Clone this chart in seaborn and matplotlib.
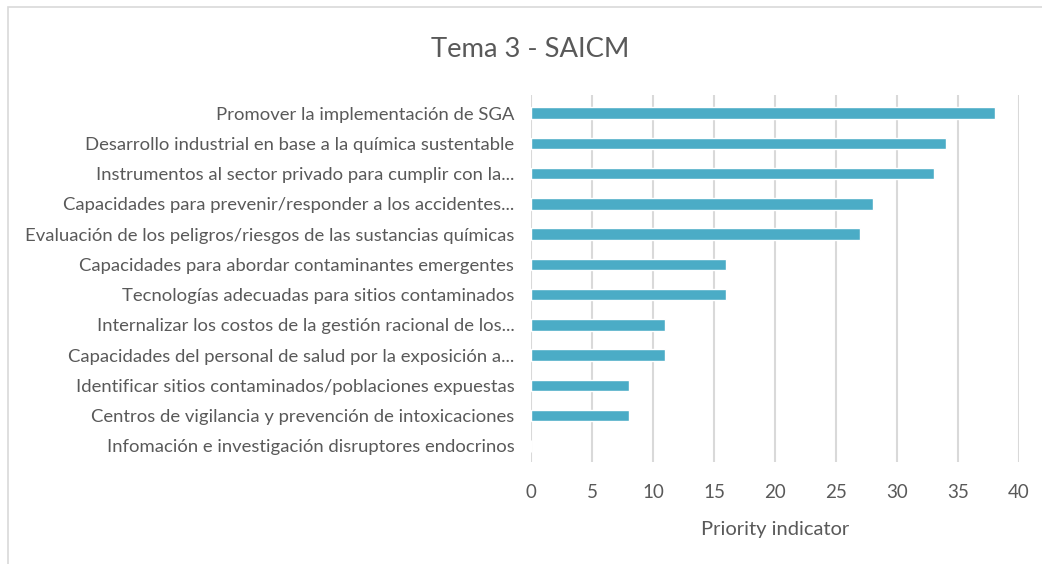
import matplotlib
matplotlib.use("Agg")
import matplotlib.pyplot as plt
import pandas as pd
import seaborn as sns
from matplotlib.patches import Rectangle

categories = [
    "Promover la implementación de SGA",
    "Desarrollo industrial en base a la química sustentable",
    "Instrumentos al sector privado para cumplir con la...",
    "Capacidades para prevenir/responder a los accidentes...",
    "Evaluación de los peligros/riesgos de las sustancias químicas",
    "Capacidades para abordar contaminantes emergentes",
    "Tecnologías adecuadas para sitios contaminados",
    "Internalizar los costos de la gestión racional de los...",
    "Capacidades del personal de salud por la exposición a...",
    "Identificar sitios contaminados/poblaciones expuestas",
    "Centros de vigilancia y prevención de intoxicaciones",
    "Infomación e investigación disruptores endocrinos",
]
priority = [38, 34, 33, 28, 27, 16, 16, 11, 11, 8, 8, 0]
x_ticks = [0, 5, 10, 15, 20, 25, 30, 35, 40]

df = pd.DataFrame({"Tema": categories, "Priority": priority})

sns.set_theme(style="white")
plt.rcParams["font.family"] = ["Lato", "DejaVu Sans"]

text_color = "#595959"
bar_color = "#4BACC6"
grid_color = "#D9D9D9"

fig = plt.figure(figsize=(10.42, 5.64), dpi=100)
ax = fig.add_axes([0.5096, 0.181, 0.4684, 0.6506])

sns.barplot(data=df, x="Priority", y="Tema", ax=ax, color=bar_color,
            width=0.38, saturation=1, orient="h")

ax.set_xlim(0, 40)
ax.set_ylim(11.53, -0.6)
ax.set_xticks(x_ticks)
ax.xaxis.grid(True, color=grid_color, linewidth=1.5)
ax.set_axisbelow(True)
for side in ["top", "right", "bottom", "left"]:
    ax.spines[side].set_visible(False)

ax.tick_params(axis="both", length=0, colors=text_color)
ax.tick_params(axis="y", labelsize=13.3, pad=12)
ax.tick_params(axis="x", labelsize=13.5, pad=16)
ax.set_ylabel("")
ax.set_xlabel("Priority indicator", color=text_color, fontsize=14.5, labelpad=14)

fig.text(0.509, 0.912, "Tema 3 - SAICM", ha="center", va="center",
         fontsize=19.7, color=text_color)

fig.patches.append(Rectangle((0.008, -0.02), 1.0, 1.007, transform=fig.transFigure,
                             fill=False, edgecolor="#D9D9D9", linewidth=1.2))

fig.savefig("out.png", dpi=100, facecolor="white")
